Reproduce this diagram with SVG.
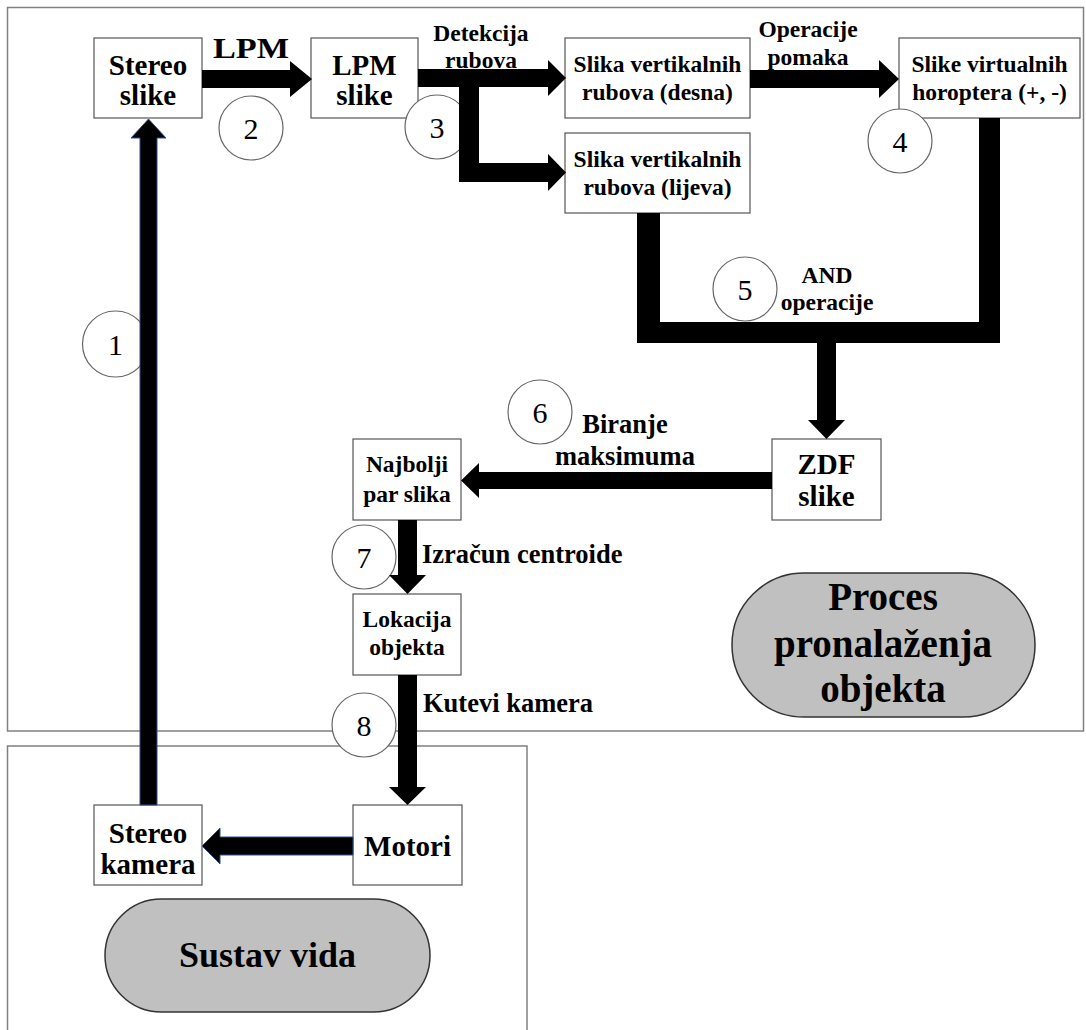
<svg xmlns="http://www.w3.org/2000/svg" width="1086" height="1030" viewBox="0 0 1086 1030">
<style>
text { font-family: "Liberation Serif", "Times New Roman", serif; font-weight: bold; fill: #000; text-anchor: middle; }
.frame { fill: none; stroke: #808080; stroke-width: 1.5; }
.box { fill: #fff; stroke: #555; stroke-width: 1.2; }
.pill { fill: #c0c0c0; stroke: #333; stroke-width: 1.5; }
.circ { fill: #fff; stroke: #666; stroke-width: 1.2; }
.num { font-weight: normal; font-size: 30px; }
.big { font-size: 29px; }
.med { font-size: 23.5px; }
.lbl { font-size: 26.5px; }
.arr { fill: #000; }
.arrb { fill: #000; stroke: #2f4f8f; stroke-width: 1; }
</style>
<rect width="1086" height="1030" fill="#fff"/>
<g id="frames">
<rect class="frame" x="7.5" y="7.5" width="1076" height="723.5"/>
<rect class="frame" x="7.5" y="746" width="519.5" height="310"/>
</g>
<g id="n-stereo-slike"><rect class="box" x="94" y="38" width="108" height="80"/><text class="big" x="148" y="75">Stereo</text><text class="big" x="148" y="105">slike</text></g>
<g id="n-lpm-slike"><rect class="box" x="311" y="38" width="107" height="80"/><text class="big" x="364.5" y="75">LPM</text><text class="big" x="364.5" y="105">slike</text></g>
<g id="n-desna"><rect class="box" x="565" y="38" width="185" height="80"/><text class="med" x="657.5" y="72">Slika vertikalnih</text><text class="med" x="657.5" y="100">rubova (desna)</text></g>
<g id="n-lijeva"><rect class="box" x="565" y="133" width="185" height="80"/><text class="med" x="657.5" y="167">Slika vertikalnih</text><text class="med" x="657.5" y="195">rubova (lijeva)</text></g>
<g id="n-virtualnih"><rect class="box" x="899" y="38" width="181" height="80"/><text class="med" x="989.5" y="72">Slike virtualnih</text><text class="med" x="989.5" y="100">horoptera (+, -)</text></g>
<g id="n-zdf"><rect class="box" x="772" y="439" width="109" height="81"/><text class="big" x="826.5" y="474">ZDF</text><text class="big" x="826.5" y="506">slike</text></g>
<g id="n-najbolji"><rect class="box" x="353" y="439" width="108" height="81"/><text class="med" x="407" y="472">Najbolji</text><text class="med" x="407" y="502">par slika</text></g>
<g id="n-lokacija"><rect class="box" x="353" y="594" width="108" height="81"/><text class="med" x="407" y="627">Lokacija</text><text class="med" x="407" y="655">objekta</text></g>
<g id="n-stereo-kamera"><rect class="box" x="94" y="805" width="108" height="80"/><text class="big" x="148" y="843">Stereo</text><text class="big" x="148" y="874">kamera</text></g>
<g id="n-motori"><rect class="box" x="353" y="805" width="109" height="80"/><text class="big" x="407.5" y="856">Motori</text></g>
<g id="n-proces"><rect class="pill" x="732" y="573" width="303" height="144" rx="72" ry="72"/><text font-size="39" x="883" y="610">Proces</text><text font-size="39" x="883" y="657">pronalaženja</text><text font-size="39" x="883" y="702">objekta</text></g>
<g id="n-sustav"><rect class="pill" x="105" y="899" width="325" height="113" rx="56.5" ry="56.5"/><text font-size="36" x="267.5" y="967">Sustav vida</text></g>
<g id="circles">
<circle class="circ" cx="115.5" cy="344" r="33"/>
<circle class="circ" cx="251" cy="128" r="32"/>
<circle class="circ" cx="437" cy="127" r="32"/>
<circle class="circ" cx="900" cy="141" r="32"/>
<circle class="circ" cx="745" cy="289" r="32"/>
<circle class="circ" cx="540" cy="412" r="32"/>
<circle class="circ" cx="364" cy="557" r="32"/>
<circle class="circ" cx="364" cy="725" r="32"/>
</g>
<g id="connectors">
<path class="arrb" d="M140,805 H157 V138 H166 L148.5,119 L131,138 H140 Z"/>
<path class="arr" d="M202,70 H290 V61 L312,79 L290,97 V88 H202 Z"/>
<path class="arr" d="M418,69 H548 V60 L566,78 L548,96 V87 H479 V163 H548 V154 L566,172.5 L548,191 V182 H459 V87 H418 Z"/>
<path class="arr" d="M750,70 H879 V60 L899,79 L879,98 V88 H750 Z"/>
<path class="arr" d="M637,213 H660 V322 H979 V118 H1000 V343 H836 V420 H845 L826.5,439 L808,420 H817 V343 H637 Z"/>
<path class="arr" d="M772,472 H479 V463 L461,480.5 L479,498 V489 H772 Z"/>
<path class="arr" d="M398,520 H417 V575 H426 L407.5,594 L389,575 H398 Z"/>
<path class="arr" d="M398,675 H417 V787 H426 L407.5,805 L389,787 H398 Z"/>
<path class="arrb" d="M353,837 V855 H220 V864 L202,846 L220,828 V837 Z"/>
</g>
<g id="numbers">
<text class="num" x="115.5" y="355">1</text>
<text class="num" x="251" y="139">2</text>
<text class="num" x="437" y="138">3</text>
<text class="num" x="900" y="152">4</text>
<text class="num" x="745" y="300">5</text>
<text class="num" x="540" y="423">6</text>
<text class="num" x="364" y="568">7</text>
<text class="num" x="364" y="736">8</text>
</g>
<g id="labels">
<text font-size="30" x="251" y="58" textLength="76" lengthAdjust="spacingAndGlyphs">LPM</text>
<text class="med" x="481" y="41">Detekcija</text>
<text class="med" x="481" y="68">rubova</text>
<text class="med" x="808" y="37">Operacije</text>
<text class="med" x="808" y="65">pomaka</text>
<text class="med" x="827" y="283">AND</text>
<text class="med" x="827" y="310">operacije</text>
<text class="lbl" x="625" y="433">Biranje</text>
<text class="lbl" x="625" y="465">maksimuma</text>
<text class="lbl" x="422" y="563" style="text-anchor:start">Izračun centroide</text>
<text class="lbl" x="423" y="712" style="text-anchor:start">Kutevi kamera</text>
</g>
</svg>
